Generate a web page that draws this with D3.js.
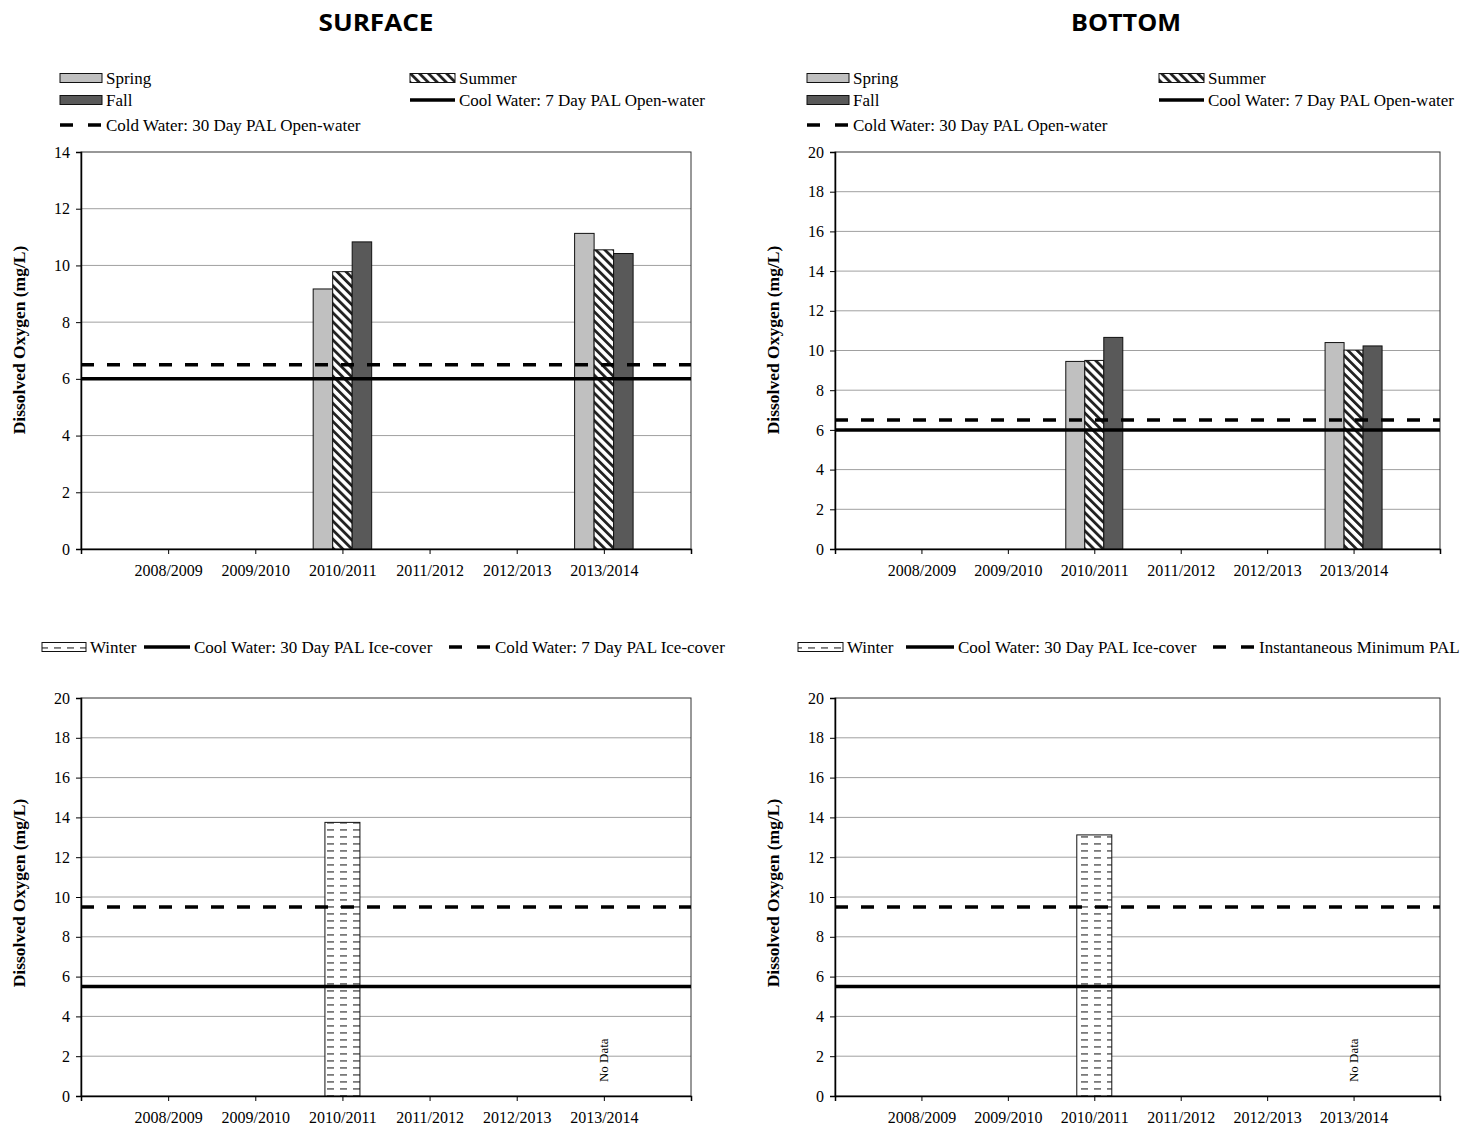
<!DOCTYPE html>
<html lang="en">
<head>
  <meta charset="UTF-8" />
  <title>Dissolved Oxygen – Surface and Bottom</title>
  <style>
    body { margin: 0; background: #fff; }
    svg { display: block; font-family: 'Liberation Serif', 'Times New Roman', serif; }
    .legend text { font-size: 17px; fill: #000; }
  </style>
</head>
<body>
  <svg id="chart" width="1476" height="1127"></svg>
  <script src="https://d3js.org/d3.v7.min.js"></script>
  <script>
    // ---- data ----
    const years = ["2008/2009", "2009/2010", "2010/2011", "2011/2012", "2012/2013", "2013/2014"];

    const surfaceSpring = [null, null, 9.17, null, null, 11.13];
    const surfaceSummer = [null, null, 9.78, null, null, 10.55];
    const surfaceFall   = [null, null, 10.83, null, null, 10.42];
    const surfaceWinter = [null, null, 13.75, null, null, null];

    const bottomSpring = [null, null, 9.45, null, null, 10.4];
    const bottomSummer = [null, null, 9.5, null, null, 10.02];
    const bottomFall   = [null, null, 10.66, null, null, 10.23];
    const bottomWinter = [null, null, 13.12, null, null, null];

    const coolOpen7 = 6;      // Cool Water: 7 Day PAL Open-water
    const coldOpen30 = 6.5;   // Cold Water: 30 Day PAL Open-water
    const coolIce30 = 5.5;    // Cool Water: 30 Day PAL Ice-cover
    const coldIce7 = 9.5;     // Cold Water: 7 Day PAL Ice-cover
    const instMin = 9.5;      // Instantaneous Minimum PAL

    const noDataYear = "2013/2014";
    const yLabel = "Dissolved Oxygen  (mg/L)";
    const serif = "'Liberation Serif', 'Times New Roman', serif";

    const svg = d3.select("#chart");
    const defs = svg.append("defs");

    // summer hatch
    const hatch = defs.append("pattern")
      .attr("id", "hatch")
      .attr("patternUnits", "userSpaceOnUse")
      .attr("width", 6.4).attr("height", 6.4)
      .attr("patternTransform", "rotate(-45)");
    hatch.append("rect").attr("width", 6.4).attr("height", 6.4).attr("fill", "#fff");
    hatch.append("rect").attr("width", 2.8).attr("height", 6.4).attr("fill", "#222");

    // winter dashes
    const dash = defs.append("pattern")
      .attr("id", "dashes")
      .attr("patternUnits", "userSpaceOnUse")
      .attr("width", 13).attr("height", 7);
    dash.append("rect").attr("width", 13).attr("height", 7).attr("fill", "#fff");
    dash.append("rect").attr("x", 2).attr("y", 3).attr("width", 7).attr("height", 1.8).attr("fill", "#7a7a7a");

    const fills = { Spring: "#c0c0c0", Summer: "url(#hatch)", Fall: "#595959", Winter: "url(#dashes)" };

    // titles
    svg.append("text").attr("x", 376).attr("y", 31).attr("text-anchor", "middle")
      .attr("font-family", "'Open Sans', sans-serif").attr("font-weight", 700).attr("font-size", 24)
      .attr("textLength", 115).attr("lengthAdjust", "spacingAndGlyphs").text("SURFACE");
    svg.append("text").attr("x", 1126).attr("y", 31).attr("text-anchor", "middle")
      .attr("font-family", "'Open Sans', sans-serif").attr("font-weight", 700).attr("font-size", 24)
      .attr("textLength", 110).attr("lengthAdjust", "spacingAndGlyphs").text("BOTTOM");

    function drawPanel(p) {
      const g = svg.append("g");
      const axisDomain = ["_start", ...years, "_end"];
      const x = d3.scalePoint().domain(axisDomain).range([p.x0, p.x1]);
      const y = d3.scaleLinear().domain([0, p.yMax]).range([p.y1, p.y0]);
      const ticks = d3.range(0, p.yMax + 0.1, 2);

      // gridlines
      g.append("g").selectAll("line").data(ticks.filter(t => t > 0 && t < p.yMax)).join("line")
        .attr("x1", p.x0).attr("x2", p.x1)
        .attr("y1", d => y(d)).attr("y2", d => y(d))
        .attr("stroke", "#a0a0a0").attr("stroke-width", 1);

      // plot border
      g.append("rect").attr("x", p.x0).attr("y", p.y0)
        .attr("width", p.x1 - p.x0).attr("height", p.y1 - p.y0)
        .attr("fill", "none").attr("stroke", "#333").attr("stroke-width", 1);

      // bars
      const groupW = p.series.length * p.barW;
      const inner = d3.scaleBand().domain(p.series.map(s => s.name)).range([-groupW / 2, groupW / 2]);
      p.series.forEach(s => {
        const pts = years.map((yr, i) => ({ yr, v: s.values[i] })).filter(d => d.v != null);
        g.append("g").selectAll("rect").data(pts).join("rect")
          .attr("x", d => x(d.yr) + inner(s.name))
          .attr("y", d => y(d.v))
          .attr("width", inner.bandwidth())
          .attr("height", d => y(0) - y(d.v))
          .attr("fill", fills[s.name])
          .attr("stroke", "#111").attr("stroke-width", 1);
      });

      // guideline lines
      p.lines.forEach(l => {
        g.append("line")
          .attr("x1", p.x0).attr("x2", p.x1)
          .attr("y1", y(l.value)).attr("y2", y(l.value))
          .attr("stroke", "#000").attr("stroke-width", 3.5)
          .attr("stroke-dasharray", l.dashed ? "13,13" : null);
      });

      // axes
      const yAxis = g.append("g").attr("transform", `translate(${p.x0},0)`)
        .call(d3.axisLeft(y).tickValues(ticks).tickSize(5).tickPadding(6).tickFormat(d3.format("d")))
        .attr("font-family", serif).attr("font-size", 16);
      yAxis.select(".domain").attr("stroke", "#000").attr("stroke-width", 1.5);
      yAxis.selectAll(".tick line").attr("stroke", "#000");

      const xAxis = g.append("g").attr("transform", `translate(0,${p.y1})`)
        .call(d3.axisBottom(x).tickSize(5).tickPadding(11).tickFormat(d => d.startsWith("_") ? "" : d))
        .attr("font-family", serif).attr("font-size", 16);
      xAxis.select(".domain").attr("stroke", "#000").attr("stroke-width", 1.5);
      xAxis.selectAll(".tick line").attr("stroke", "#000");

      // y axis title
      svg.append("text")
        .attr("transform", `translate(${p.x0 - 56},${p.labelY}) rotate(-90)`)
        .attr("text-anchor", "middle").attr("font-weight", 700).attr("font-size", 17.5)
        .text(yLabel);

      if (p.noData) {
        svg.append("text")
          .attr("transform", `translate(${x(noDataYear) + 4},${y(2) + 4}) rotate(-90)`)
          .attr("text-anchor", "middle").attr("font-size", 13)
          .text("No Data");
      }

      // legend
      const lg = svg.append("g").attr("class", "legend");
      p.legend.forEach(item => {
        const cy = item.y;
        if (item.kind === "bar") {
          lg.append("rect").attr("x", item.x).attr("y", cy - 4.5).attr("width", item.w).attr("height", 9)
            .attr("fill", fills[item.name]).attr("stroke", "#111").attr("stroke-width", 1);
        } else {
          lg.append("line").attr("x1", item.x).attr("x2", item.x + item.w).attr("y1", cy).attr("y2", cy)
            .attr("stroke", "#000").attr("stroke-width", 3.5)
            .attr("stroke-dasharray", item.kind === "dash" ? "13,15" : null);
        }
        lg.append("text").attr("x", item.x + item.w + 4).attr("y", cy + 5.5).text(item.label);
      });
    }

    const openLegend = (c1, c2) => [
      { kind: "bar", name: "Spring", label: "Spring", x: c1, w: 42, y: 78 },
      { kind: "bar", name: "Summer", label: "Summer", x: c2, w: 45, y: 78 },
      { kind: "bar", name: "Fall", label: "Fall", x: c1, w: 42, y: 100 },
      { kind: "line", label: "Cool Water: 7 Day PAL Open-water", x: c2, w: 45, y: 100 },
      { kind: "dash", label: "Cold Water: 30 Day PAL Open-water", x: c1, w: 42, y: 125 }
    ];

    drawPanel({
      x0: 81, x1: 691, y0: 152, y1: 549, yMax: 14, barW: 19.5, labelY: 340,
      series: [
        { name: "Spring", values: surfaceSpring },
        { name: "Summer", values: surfaceSummer },
        { name: "Fall", values: surfaceFall }
      ],
      lines: [{ value: coolOpen7, dashed: false }, { value: coldOpen30, dashed: true }],
      legend: openLegend(60, 410)
    });

    drawPanel({
      x0: 835, x1: 1440, y0: 152, y1: 549, yMax: 20, barW: 19, labelY: 340,
      series: [
        { name: "Spring", values: bottomSpring },
        { name: "Summer", values: bottomSummer },
        { name: "Fall", values: bottomFall }
      ],
      lines: [{ value: coolOpen7, dashed: false }, { value: coldOpen30, dashed: true }],
      legend: openLegend(807, 1159)
    });

    drawPanel({
      x0: 81, x1: 691, y0: 698, y1: 1096, yMax: 20, barW: 35, labelY: 893,
      series: [{ name: "Winter", values: surfaceWinter }],
      lines: [{ value: coolIce30, dashed: false }, { value: coldIce7, dashed: true }],
      noData: true,
      legend: [
        { kind: "bar", name: "Winter", label: "Winter", x: 42, w: 44, y: 647 },
        { kind: "line", label: "Cool Water: 30 Day PAL Ice-cover", x: 144, w: 46, y: 647 },
        { kind: "dash", label: "Cold Water: 7 Day PAL Ice-cover", x: 449, w: 42, y: 647 }
      ]
    });

    drawPanel({
      x0: 835, x1: 1440, y0: 698, y1: 1096, yMax: 20, barW: 35, labelY: 893,
      series: [{ name: "Winter", values: bottomWinter }],
      lines: [{ value: coolIce30, dashed: false }, { value: instMin, dashed: true }],
      noData: true,
      legend: [
        { kind: "bar", name: "Winter", label: "Winter", x: 798, w: 45, y: 647 },
        { kind: "line", label: "Cool Water: 30 Day PAL Ice-cover", x: 906, w: 48, y: 647 },
        { kind: "dash", label: "Instantaneous Minimum PAL", x: 1213, w: 42, y: 647 }
      ]
    });
  </script>
</body>
</html>
